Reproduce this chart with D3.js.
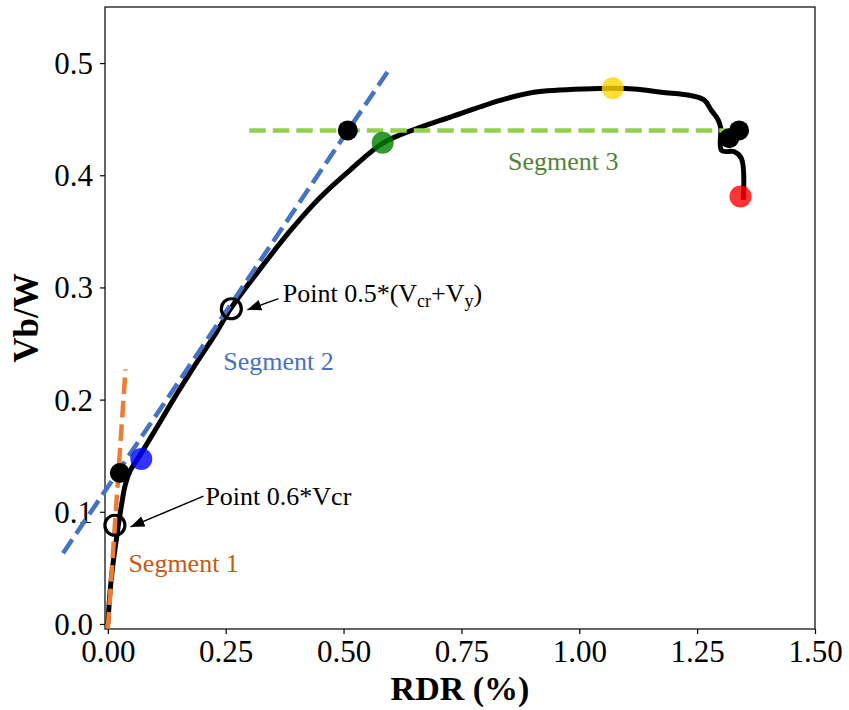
<!DOCTYPE html>
<html>
<head>
<meta charset="utf-8">
<script src="https://cdn.jsdelivr.net/npm/d3@7"></script>
<style>
  html, body { margin: 0; padding: 0; background: #fff; }
  svg { display: block; }
  text { font-family: "Liberation Serif", "Times New Roman", serif; }
</style>
</head>
<body>
<svg id="chart" width="849" height="710"></svg>
<script>
// Load–drift response: normalised base shear Vb/W against roof drift ratio (%)
const rdr = [0.000, 0.005, 0.012, 0.018, 0.022, 0.029, 0.037, 0.048, 0.069, 0.105,
             0.139, 0.190, 0.229, 0.262, 0.324, 0.388, 0.445, 0.515, 0.585, 0.658,
             0.728, 0.834, 0.904, 1.010, 1.116, 1.174, 1.237, 1.265, 1.280, 1.295,
             1.300, 1.302, 1.329, 1.344, 1.348];
const vbw = [0.000, 0.030, 0.057, 0.075, 0.087, 0.106, 0.124, 0.137, 0.151, 0.176,
             0.200, 0.234, 0.259, 0.282, 0.317, 0.351, 0.378, 0.405, 0.429, 0.442,
             0.452, 0.467, 0.474, 0.477, 0.477, 0.474, 0.471, 0.467, 0.458, 0.449,
             0.442, 0.422, 0.421, 0.415, 0.378];

// Trilinear idealisation segments [x0, y0, x1, y1]
const segment1 = [0.000, -0.004, 0.0375, 0.227];
const segment2 = [-0.095, 0.0630, 0.600, 0.4964];
const segment3 = [0.300, 0.440, 1.330, 0.440];

// Characteristic points
const blackPts  = [[0.0255, 0.1346], [0.509, 0.440], [1.318, 0.433], [1.339, 0.440]];
const openPts   = [[0.015, 0.088], [0.262, 0.281]];
const crackPt   = [0.071, 0.147];
const yieldPt   = [0.583, 0.429];
const peakPt    = [1.071, 0.4775];
const ultPt     = [1.342, 0.381];

const xTicks = [0.00, 0.25, 0.50, 0.75, 1.00, 1.25, 1.50];
const yTicks = [0.0, 0.1, 0.2, 0.3, 0.4, 0.5];

const svg = d3.select("#chart");
const L = 105, R = 815, T = 7, B = 629;

const x = d3.scaleLinear().domain([-0.006, 1.5]).range([L, R]);
const y = d3.scaleLinear().domain([-0.0045, 0.55]).range([B, T]);

// Axes
const xAxis = d3.axisBottom(x).tickValues(xTicks).tickFormat(d3.format(".2f")).tickSize(5).tickPadding(6);
const yAxis = d3.axisLeft(y).tickValues(yTicks).tickFormat(d3.format(".1f")).tickSize(5).tickPadding(7);

const gx = svg.append("g").attr("transform", `translate(0,${B})`).call(xAxis);
const gy = svg.append("g").attr("transform", `translate(${L},0)`).call(yAxis);
[gx, gy].forEach(g => {
  g.select(".domain").remove();
  g.selectAll(".tick line").attr("stroke", "#000").attr("stroke-width", 1.2);
  g.selectAll(".tick text").attr("fill", "#000")
    .style("font-family", '"Liberation Serif", serif').style("font-size", "31px");
});
gy.selectAll(".tick text").attr("dy", "0.34em");

// Frame
svg.append("rect").attr("x", L).attr("y", T).attr("width", R - L).attr("height", B - T)
  .attr("fill", "none").attr("stroke", "#000").attr("stroke-width", 1.2);

// Axis titles
svg.append("text").attr("x", (L + R) / 2).attr("y", 700).attr("text-anchor", "middle")
  .style("font-size", "34px").style("font-weight", "bold").text("RDR (%)");
svg.append("text").attr("transform", `translate(38,${(T + B) / 2}) rotate(-90)`)
  .attr("text-anchor", "middle")
  .style("font-size", "35px").style("font-weight", "bold").text("Vb/W");

// Response curve
const line = d3.line().curve(d3.curveCatmullRom.alpha(0.5)).x(d => x(d[0])).y(d => y(d[1]));
svg.append("path").datum(d3.zip(rdr, vbw)).attr("d", line)
  .attr("fill", "none").attr("stroke", "#000").attr("stroke-width", 5)
  .attr("stroke-linejoin", "round").attr("stroke-linecap", "butt");

// Dashed segments
const segs = [[segment1, "#ed7d31"], [segment2, "#4472c4"], [segment3, "#92d050"]];
segs.forEach(([s, c]) => {
  svg.append("line")
    .attr("x1", x(s[0])).attr("y1", y(s[1])).attr("x2", x(s[2])).attr("y2", y(s[3]))
    .attr("stroke", c).attr("stroke-width", 4.5).attr("stroke-dasharray", "16.5 7");
});

// Coloured state markers
[[crackPt, "#0000ff"], [yieldPt, "#008000"], [peakPt, "#ffd700"], [ultPt, "#ff0000"]].forEach(([p, c]) => {
  svg.append("circle").attr("cx", x(p[0])).attr("cy", y(p[1])).attr("r", 11)
    .attr("fill", c).attr("fill-opacity", 0.8);
});

// Segment intersection markers
svg.selectAll(".bp").data(blackPts).enter().append("circle")
  .attr("cx", d => x(d[0])).attr("cy", d => y(d[1])).attr("r", 10).attr("fill", "#000");

// Open reference points
svg.selectAll(".op").data(openPts).enter().append("circle")
  .attr("cx", d => x(d[0])).attr("cy", d => y(d[1])).attr("r", 10)
  .attr("fill", "none").attr("stroke", "#000").attr("stroke-width", 3.2);

// Annotation arrows
const defs = svg.append("defs");
defs.append("marker").attr("id", "head").attr("viewBox", "0 0 14 11")
  .attr("refX", 14).attr("refY", 5.5).attr("markerWidth", 14).attr("markerHeight", 11)
  .attr("markerUnits", "userSpaceOnUse").attr("orient", "auto")
  .append("path").attr("d", "M0,0 L14,5.5 L0,11 Z").attr("fill", "#000");

const arrows = [[[0.203, 0.114], [0.048, 0.0865]], [[0.362, 0.290], [0.296, 0.280]]];
arrows.forEach(([a, b]) => {
  svg.append("line").attr("x1", x(a[0])).attr("y1", y(a[1])).attr("x2", x(b[0])).attr("y2", y(b[1]))
    .attr("stroke", "#000").attr("stroke-width", 1.5).attr("marker-end", "url(#head)");
});

// Labels
const fs = "26px";
svg.append("text").attr("x", x(0.207)).attr("y", y(0.106)).style("font-size", fs).text("Point 0.6*Vcr");
const t2 = svg.append("text").attr("x", x(0.371)).attr("y", y(0.287)).style("font-size", fs);
t2.append("tspan").text("Point 0.5*(V");
t2.append("tspan").attr("dy", 5).style("font-size", "18px").text("cr");
t2.append("tspan").attr("dy", -5).text("+V");
t2.append("tspan").attr("dy", 5).style("font-size", "18px").text("y");
t2.append("tspan").attr("dy", -5).text(")");

svg.append("text").attr("x", x(0.0436)).attr("y", y(0.0463)).style("font-size", fs)
  .attr("fill", "#c55a11").text("Segment 1");
svg.append("text").attr("x", x(0.245)).attr("y", y(0.2264)).style("font-size", fs)
  .attr("fill", "#4472c4").text("Segment 2");
svg.append("text").attr("x", x(0.849)).attr("y", y(0.4046)).style("font-size", fs)
  .attr("fill", "#548235").text("Segment 3");
</script>
</body>
</html>
